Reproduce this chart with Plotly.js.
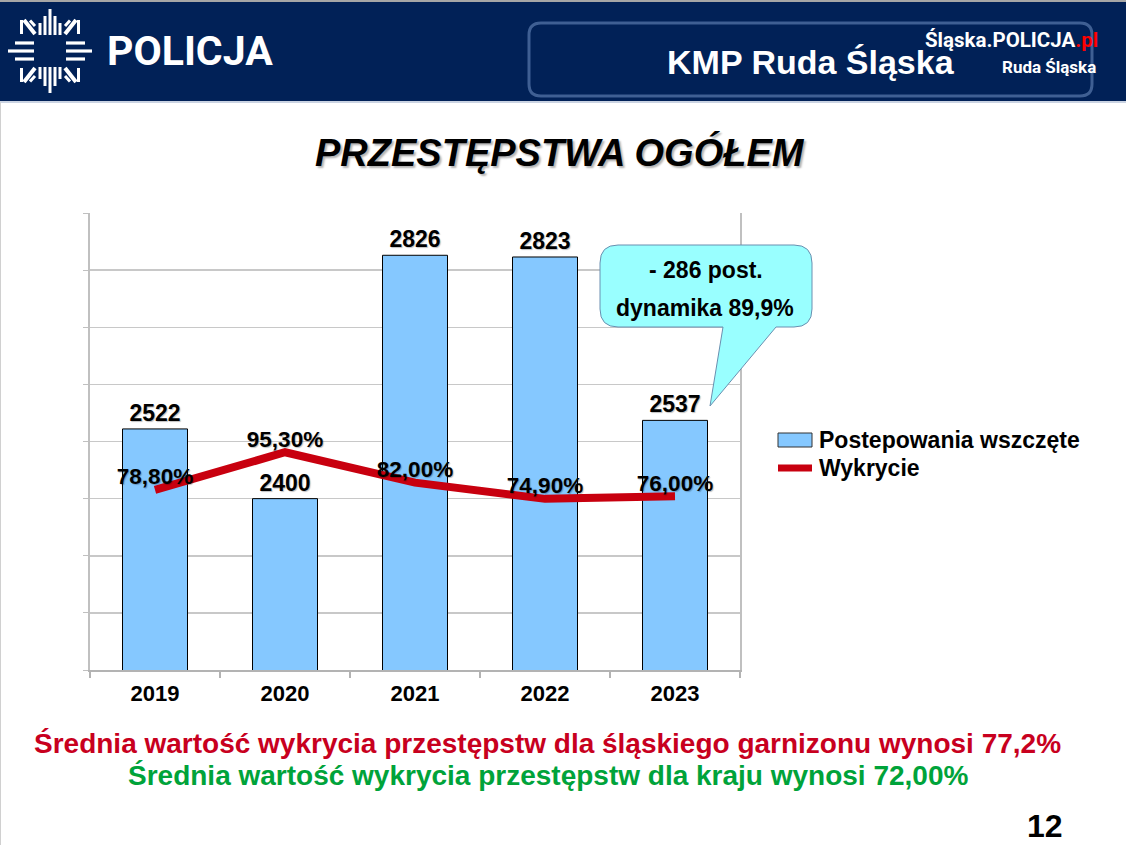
<!DOCTYPE html>
<html>
<head>
<meta charset="utf-8">
<script src="https://cdn.plot.ly/plotly-3.0.1.min.js"></script>
<style>
  html, body { margin: 0; padding: 0; background: #ffffff; }
  #chart { width: 1126px; height: 845px; }
</style>
</head>
<body>
<div id="chart"></div>
<script>
// ---- data ----
const categories = ['2019', '2020', '2021', '2022', '2023'];
const proceedings = [2522, 2400, 2826, 2823, 2537];
const detection = [78.8, 95.3, 82.0, 74.9, 76.0];
const detectionLabels = ['78,80%', '95,30%', '82,00%', '74,90%', '76,00%'];
const seriesNames = ['Postepowania wszczęte', 'Wykrycie'];
const titleText = 'PRZESTĘPSTWA OGÓŁEM';
const calloutLines = ['- 286 post.', 'dynamika 89,9%'];
const noteRegional = 'Średnia wartość wykrycia przestępstw dla śląskiego garnizonu wynosi 77,2%';
const noteNational = 'Średnia wartość wykrycia przestępstw dla kraju wynosi 72,00%';
const headerLogo = 'POLICJA';
const headerUnit = 'KMP Ruda Śląska';
const pageNumber = '12';

// ---- layout helpers (page pixel -> paper coords) ----
const W = 1126, H = 845;
const PL = 90, PR = 740, PT = 213, PB = 670;
const X = px => (px - PL) / (PR - PL);
const Y = py => (PB - py) / (PB - PT);
const FONT = 'Liberation Sans, Arial, sans-serif';
const NARROW = 'Liberation Sans Narrow, Roboto, sans-serif';

function roundRectPath(x0, y0, x1, y1, r) {
  return 'M' + X(x0 + r) + ',' + Y(y0) +
    ' L' + X(x1 - r) + ',' + Y(y0) +
    ' Q' + X(x1) + ',' + Y(y0) + ' ' + X(x1) + ',' + Y(y0 + r) +
    ' L' + X(x1) + ',' + Y(y1 - r) +
    ' Q' + X(x1) + ',' + Y(y1) + ' ' + X(x1 - r) + ',' + Y(y1) +
    ' L' + X(x0 + r) + ',' + Y(y1) +
    ' Q' + X(x0) + ',' + Y(y1) + ' ' + X(x0) + ',' + Y(y1 - r) +
    ' L' + X(x0) + ',' + Y(y0 + r) +
    ' Q' + X(x0) + ',' + Y(y0) + ' ' + X(x0 + r) + ',' + Y(y0) + ' Z';
}

function calloutPath(x0, y0, x1, y1, r, b0, b1, tx, ty) {
  return 'M' + X(x0 + r) + ',' + Y(y0) +
    ' L' + X(x1 - r) + ',' + Y(y0) +
    ' Q' + X(x1) + ',' + Y(y0) + ' ' + X(x1) + ',' + Y(y0 + r) +
    ' L' + X(x1) + ',' + Y(y1 - r) +
    ' Q' + X(x1) + ',' + Y(y1) + ' ' + X(x1 - r) + ',' + Y(y1) +
    ' L' + X(b1) + ',' + Y(y1) +
    ' L' + X(tx) + ',' + Y(ty) +
    ' L' + X(b0) + ',' + Y(y1) +
    ' L' + X(x0 + r) + ',' + Y(y1) +
    ' Q' + X(x0) + ',' + Y(y1) + ' ' + X(x0) + ',' + Y(y1 - r) +
    ' L' + X(x0) + ',' + Y(y0 + r) +
    ' Q' + X(x0) + ',' + Y(y0) + ' ' + X(x0 + r) + ',' + Y(y0) + ' Z';
}

function line(x0, y0, x1, y1, color, width) {
  return { type: 'line', xref: 'paper', yref: 'paper',
    x0: X(x0), y0: Y(y0), x1: X(x1), y1: Y(y1),
    line: { color: color, width: width } };
}

// ---- shapes ----
const NAVY = '#012157';
const shapes = [];
shapes.push(line(0, 1, W, 1, '#a6a6a6', 2));
shapes.push({ type: 'rect', xref: 'paper', yref: 'paper', x0: X(0), x1: X(W), y0: Y(2), y1: Y(101),
  fillcolor: NAVY, line: { width: 0 } });
shapes.push(line(0, 102, W, 102, '#b8c4d8', 1.5));
shapes.push(line(0.5, 102, 0.5, H, '#d0d0d0', 1));
shapes.push({ type: 'path', xref: 'paper', yref: 'paper', path: roundRectPath(529, 23, 1092, 96, 12),
  fillcolor: 'rgba(0,0,0,0)', line: { color: '#3f5f93', width: 3 } });

// logo emblem
const LC = '#ffffff';
const cx = 50, cy = 51;
[[-10, 23], [-5, 16], [0, 9], [5, 16], [10, 23]].forEach(([dx, top]) => {
  shapes.push(line(cx + dx, top, cx + dx, 35, LC, 3));
  shapes.push(line(cx + dx, cy + (cy - top), cx + dx, 67, LC, 3));
});
[[-8, 15], [0, 8], [8, 15]].forEach(([dy, left]) => {
  shapes.push(line(left, cy + dy, 34, cy + dy, LC, 3.2));
  shapes.push(line(cx + (cx - left), cy + dy, 66, cy + dy, LC, 3.2));
});
// corner blocks with diagonal stripes
[[20, 20, 1, 1], [80, 20, -1, 1], [20, 82, 1, -1], [80, 82, -1, -1]].forEach(([ox, oy, sx, sy]) => {
  shapes.push(line(ox + 1.5 * sx, oy, ox + 1.5 * sx, oy + 14 * sy, LC, 3));
  shapes.push(line(ox + 4 * sx, oy, ox + 15 * sx, oy + 14 * sy, LC, 4));
  shapes.push(line(ox + 10 * sx, oy + 0.5 * sy, ox + 15 * sx, oy + 6 * sy, LC, 3));
});

// callout bubble
shapes.push({ type: 'path', xref: 'paper', yref: 'paper',
  path: calloutPath(600, 245, 812, 327, 18, 723, 776, 710, 406),
  fillcolor: '#99ffff', line: { color: '#6a8fb0', width: 1 } });

// custom legend keys
shapes.push({ type: 'rect', xref: 'paper', yref: 'paper', x0: X(778), x1: X(812), y0: Y(447), y1: Y(433),
  fillcolor: '#85c8ff', line: { color: '#333333', width: 1 } });
shapes.push(line(778, 468, 812, 468, '#c8000f', 7));

// ---- annotations ----
function ann(text, px, py, size, color, opts) {
  return Object.assign({ text: text, xref: 'paper', yref: 'paper', x: X(px), y: Y(py),
    xanchor: 'center', yanchor: 'middle', showarrow: false,
    font: { family: FONT, size: size, color: color, weight: 700 } }, opts || {});
}
const shadow = '1px 1px 1px rgba(0,0,0,0.25)';
const annotations = [
  ann(headerLogo, 190, 51, 40, '#ffffff', { font: { family: NARROW, size: 41, color: '#ffffff', weight: 700 } }),
  ann(headerUnit, 811, 62, 34, '#ffffff'),
  ann('Śląska.POLICJA<span style="color:#ff0000">.pl</span>', 1100, 40, 20, '#ffffff',
    { xanchor: 'right', font: { family: NARROW, size: 20.5, color: '#ffffff', weight: 700 } }),
  ann('Ruda Śląska', 1098, 67, 17, '#ffffff',
    { xanchor: 'right', font: { family: NARROW, size: 17, color: '#ffffff', weight: 700 } }),
  ann(titleText, 560, 152, 38, '#000000',
    { font: { family: FONT, size: 38, color: '#000000', weight: 700, style: 'italic', shadow: '2px 2px 2px rgba(0,0,0,0.3)' } }),
  ann(calloutLines[0], 706, 270, 23, '#000000'),
  ann(calloutLines[1], 705, 308, 23, '#000000'),
  ann(seriesNames[0], 817, 440, 23, '#000000', { xanchor: 'left' }),
  ann(seriesNames[1], 817, 468, 23, '#000000', { xanchor: 'left' }),
  ann(noteRegional, 547, 743, 28, '#c8001e'),
  ann(noteNational, 548, 775, 28, '#00a33a'),
  ann(pageNumber, 1045, 826, 32, '#000000', { borderpad: 0 })
];

// ---- traces ----
const traces = [
  {
    type: 'bar', name: seriesNames[0], x: categories, y: proceedings,
    marker: { color: '#85c8ff', line: { color: '#000000', width: 1 } },
    text: proceedings.map(String), textposition: 'outside', cliponaxis: false,
    textfont: { family: FONT, size: 23, color: '#000000', weight: 700, shadow: shadow }
  },
  {
    type: 'scatter', mode: 'lines+text', name: seriesNames[1], x: categories, y: detection,
    yaxis: 'y2', line: { color: '#c8000f', width: 8 },
    text: detectionLabels, textposition: 'top center', cliponaxis: false,
    textfont: { family: FONT, size: 22.5, color: '#000000', weight: 700, shadow: shadow }
  }
];

const layout = {
  width: W, height: H,
  margin: { l: PL, r: W - PR, t: PT, b: H - PB, pad: 0 },
  paper_bgcolor: '#ffffff', plot_bgcolor: '#ffffff',
  showlegend: false,
  bargap: 0.5,
  hovermode: false,
  font: { family: FONT, color: '#000000' },
  xaxis: {
    type: 'category', showgrid: false, tickson: 'boundaries', ticks: 'outside', ticklen: 6,
    tickcolor: '#b3b3b3', tickwidth: 1.5, showline: true, linecolor: '#b3b3b3', linewidth: 2,
    ticklabelstandoff: 3,
    tickfont: { family: FONT, size: 22, color: '#000000', weight: 700 }
  },
  yaxis: {
    range: [2100, 2900], dtick: 100, showticklabels: false, ticks: 'outside', ticklen: 5,
    tickcolor: '#c0c0c0', gridcolor: '#c8c8c8', gridwidth: 1.5, showline: true, mirror: true,
    linecolor: '#c0c0c0', linewidth: 2, zeroline: false
  },
  yaxis2: { range: [0, 200], overlaying: 'y', side: 'right', visible: false, showgrid: false },
  shapes: shapes,
  annotations: annotations
};

Plotly.newPlot('chart', traces, layout, { staticPlot: true, displayModeBar: false });
</script>
</body>
</html>
